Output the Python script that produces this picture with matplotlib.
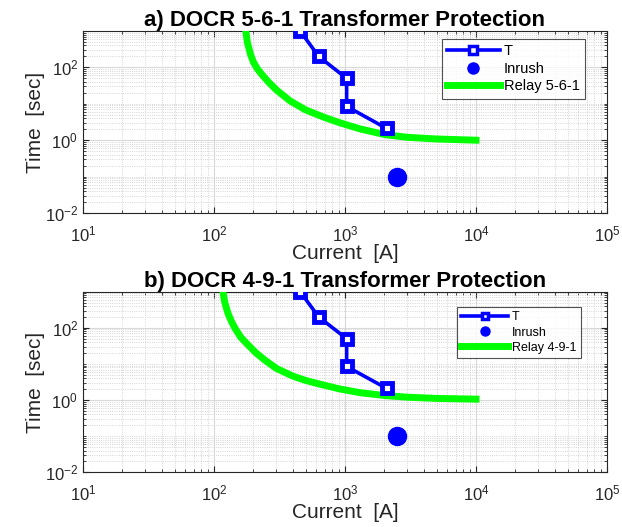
import matplotlib
matplotlib.use("Agg")
import matplotlib.pyplot as plt
from matplotlib.ticker import LogLocator, NullFormatter

plt.rcParams['font.family'] = ['Liberation Sans', 'DejaVu Sans']

# Transformer damage curve (same in both panels)
t_current = [455, 630, 1030, 1030, 2080]
t_time = [1000, 200, 50, 8.5, 2.1]

# Inrush point
inrush_current = [2500]
inrush_time = [0.1]

# Relay 5-6-1 curve
r1_current = [175, 180, 190, 200, 215, 232, 260, 300, 381, 500, 700, 916, 1300, 2020, 3000, 5000, 10000]
r1_time = [1000, 480, 230, 140, 90, 64, 40, 24, 12, 6.8, 4.2, 3.0, 2.05, 1.42, 1.2, 1.08, 1.0]

# Relay 4-9-1 curve
r2_current = [117, 121, 128, 136, 145, 160, 180, 210, 245, 300, 400, 500, 644, 900, 1300, 2020, 3000, 5000, 10000]
r2_time = [1000, 500, 250, 150, 96, 55, 35, 20, 12.7, 7.5, 4.6, 3.5, 2.75, 2.05, 1.6, 1.33, 1.2, 1.11, 1.06]

panels = [
    ("a) DOCR 5-6-1 Transformer Protection", "Relay 5-6-1", r1_current, r1_time,
     [0.1334, 0.5958, 0.8424, 0.3454], 10.5, (585 / 622, 1 - 39 / 527), 3.6),
    ("b) DOCR 4-9-1 Transformer Protection", "Relay 4-9-1", r2_current, r2_time,
     [0.1334, 0.1038, 0.8424, 0.3427], 9, (581 / 622, 1 - 307 / 527), 3.8),
]

fig = plt.figure(figsize=(6.22, 5.27), dpi=100)

for title, rlabel, rc, rt, rect, lfs, anchor, hl in panels:
    ax = fig.add_axes(rect)
    ax.set_xscale('log')
    ax.set_yscale('log')
    ax.plot(t_current, t_time, '-s', color='#0000ff', lw=2.6, ms=6.5,
            mfc='white', mec='#0000ff', mew=3.5, label='T', zorder=4)
    ax.plot(inrush_current, inrush_time, 'o', color='#0000ff', ms=13,
            label='Inrush', zorder=4, linestyle='none')
    ax.plot(rc, rt, '-', color='#00ff00', lw=5, label=rlabel, zorder=3,
            solid_joinstyle='round')
    ax.set_xlim(10, 1e5)
    ax.set_ylim(1e-2, 1e3)
    ax.xaxis.set_major_locator(LogLocator(base=10, numticks=10))
    ax.xaxis.set_minor_locator(LogLocator(base=10, subs=range(2, 10), numticks=50))
    ax.yaxis.set_minor_locator(LogLocator(base=10, subs=range(1, 10), numticks=50))
    ax.set_yticks([1e-2, 1, 1e2])
    ax.yaxis.set_minor_formatter(NullFormatter())
    ax.xaxis.set_minor_formatter(NullFormatter())
    ax.grid(True, which='major', color='#d9d9d9', lw=0.8, ls='-')
    ax.grid(True, which='minor', color='#c8c8c8', lw=0.6, ls=':')
    ax.tick_params(which='both', direction='in', top=True, right=True,
                   colors='#262626', labelsize=12)
    ax.tick_params(axis='x', which='major', pad=8)
    ax.tick_params(which='major', length=4)
    ax.tick_params(which='minor', length=2)
    for s in ax.spines.values():
        s.set_color('#262626')
        s.set_linewidth(0.8)
    ax.set_xlabel('Current  [A]', fontsize=15, color='#262626', labelpad=0)
    ax.set_ylabel('Time  [sec]', fontsize=15, color='#262626', labelpad=0)
    ax.set_title(title, fontsize=16, fontweight='bold', pad=2)
    leg = ax.legend(loc='upper right', bbox_to_anchor=anchor,
                    bbox_transform=fig.transFigure, fontsize=lfs, frameon=True,
                    fancybox=False, edgecolor='#262626', borderaxespad=0,
                    handlelength=hl, labelspacing=0.25, borderpad=0.35,
                    handletextpad=0.3)
    leg.get_frame().set_linewidth(0.8)
    hs = leg.legend_handles
    hs[0].set_markersize(6 if lfs > 10 else 5)
    hs[0].set_markeredgewidth(2.5)
    hs[1].set_markersize(8 if lfs > 10 else 6.5)

fig.savefig('out.png', dpi=100, facecolor='white')
